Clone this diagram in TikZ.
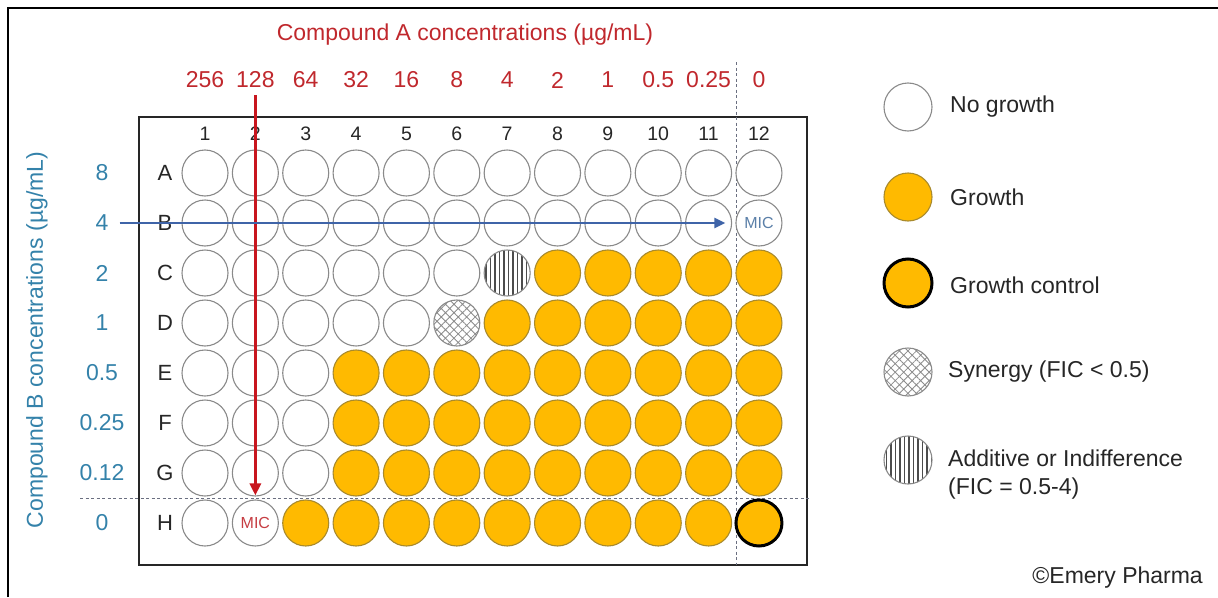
\documentclass[tikz,border=0pt]{standalone}
\usepackage{fontspec}
\setmainfont{Liberation Sans}
\usetikzlibrary{patterns.meta,arrows.meta}
\definecolor{gold}{HTML}{FFBA00}
\definecolor{goldedge}{HTML}{A88A2E}
\definecolor{wellgray}{HTML}{8A8A8A}
\definecolor{redtxt}{HTML}{C0282D}
\definecolor{redarr}{HTML}{C8161E}
\definecolor{bluetxt}{HTML}{3482AA}
\definecolor{bluearr}{HTML}{3F64A8}
\definecolor{micblue}{HTML}{5A7FA8}
\definecolor{dashgray}{HTML}{6A6F80}
\begin{document}
\begin{tikzpicture}[x=1pt,y=-1pt,
  txt/.style={font=\fontsize{23}{27}\selectfont, inner sep=2pt},
  colnum/.style={font=\fontsize{19.5}{22}\selectfont, text=black!85, inner sep=1pt},
  rowlet/.style={font=\fontsize{22}{26}\selectfont, text=black!85, inner sep=1pt},
  aval/.style={txt, text=redtxt},
  bval/.style={txt, text=bluetxt},
  well/.style={circle, minimum size=46pt, inner sep=0pt},
  nog/.style={draw=wellgray, fill=white, line width=1.1pt},
  gro/.style={draw=goldedge, fill=gold, line width=1.1pt},
  ctrl/.style={draw=black, fill=gold, line width=3pt},
  syn/.style={draw=wellgray, line width=1.1pt, preaction={fill=white},
     pattern={Hatch[angle=45, distance=6pt, line width=0.8pt]}, pattern color=black!45},
  add/.style={draw=wellgray, line width=1.1pt, preaction={fill=white},
     pattern={Lines[angle=90, distance=4.5pt, line width=1.1pt]}, pattern color=black!70},
  sp C7/.style={add}, sp D6/.style={syn}, sp H12/.style={ctrl},
  guide/.style={dashgray, line width=0.9pt, dash pattern=on 3pt off 2.5pt},
  micred/.style={font=\fontsize{16}{18}\selectfont, text=redtxt!90, inner sep=0pt},
  micbl/.style={font=\fontsize{16}{18}\selectfont, text=micblue, inner sep=0pt},
  legtxt/.style={txt, text=black!85, anchor=west, align=left},
]
\useasboundingbox (0,0) rectangle (1218,597);
% outer frame
\draw[line width=2pt] (8,597) -- (8,8) -- (1218,8);
% plate
\draw[line width=1.6pt, draw=black!85] (139,117) rectangle (807,565);
% guides
\coordinate (hg1) at (80,498); \coordinate (hg2) at (811,498);
\coordinate (vg1) at (736,62); \coordinate (vg2) at (736,565);
\draw[guide] (hg1) -- (hg2);
\draw[guide] (vg1) -- (vg2);
% titles
\node[txt, text=redtxt] (titA) at (465,35) {Compound A concentrations (µg/mL)};
\node[txt, text=bluetxt, rotate=90] (titB) at (37,340) {Compound B concentrations (µg/mL)};
% top values and column numbers
\foreach \v [count=\c] in {256,128,64,32,16,8,4,2,1,0.5,0.25,0} {
  \node[aval] (t\c) at ({205+(\c-1)*50.36},80) {\v};
  \node[colnum] (n\c) at ({205+(\c-1)*50.36},134) {\c};
}
% left values and row letters
\foreach \v/\r [count=\j] in {8/A,4/B,2/C,1/D,0.5/E,0.25/F,0.12/G,0/H} {
  \node[bval] (b\j) at (102,{173+(\j-1)*50}) {\v};
  \node[rowlet] (l\r) at (165,{173+(\j-1)*50}) {\r};
}
% wells
\foreach \r/\f [count=\j] in {A/13,B/13,C/8,D/7,E/4,F/4,G/4,H/3} {
  \foreach \c in {1,...,12} {
    \ifnum\c<\f \def\st{nog}\else\def\st{gro}\fi
    \node[well, \st, sp \r\c/.try] (w-\r-\c) at ({205+(\c-1)*50.36},{173+(\j-1)*50}) {};
  }
}
\node[micred] at (w-H-2) {MIC};
\node[micbl] at (w-B-12) {MIC};
% arrows
\draw[redarr, line width=3pt, -{Triangle[length=12pt,width=11pt]}, shorten >=4pt]
  ([yshift=-5pt]t2.south) -- (w-H-2.north);
\draw[bluearr, line width=2.5pt, -{Triangle[length=11pt,width=10pt]}, shorten >=10pt]
  ([xshift=9pt]b2.east) -- (w-B-12.west);
% legend
\node[well, minimum size=48pt, nog] (lg1) at (908,107) {};
\node[well, minimum size=48pt, gro] (lg2) at (908,197) {};
\node[well, minimum size=48pt, ctrl] (lg3) at (908,283) {};
\node[well, minimum size=48pt, syn] (lg4) at (908,372) {};
\node[well, minimum size=48pt, add] (lg5) at (908,460) {};
\node[legtxt] (lt1) at (948,107) {No growth};
\node[legtxt] (lt2) at (948,197) {Growth};
\node[legtxt] (lt3) at (948,285) {Growth control};
\node[legtxt] (lt4) at (946,372) {Synergy (FIC < 0.5)};
\node[legtxt] (lt5) at (946,458) {Additive or Indifference};
\node[legtxt] (lt6) at (946,489) {(FIC = 0.5-4)};
\node[txt, text=black!85, anchor=east] (copy) at (1205,578) {©Emery Pharma};
\end{tikzpicture}
\end{document}
